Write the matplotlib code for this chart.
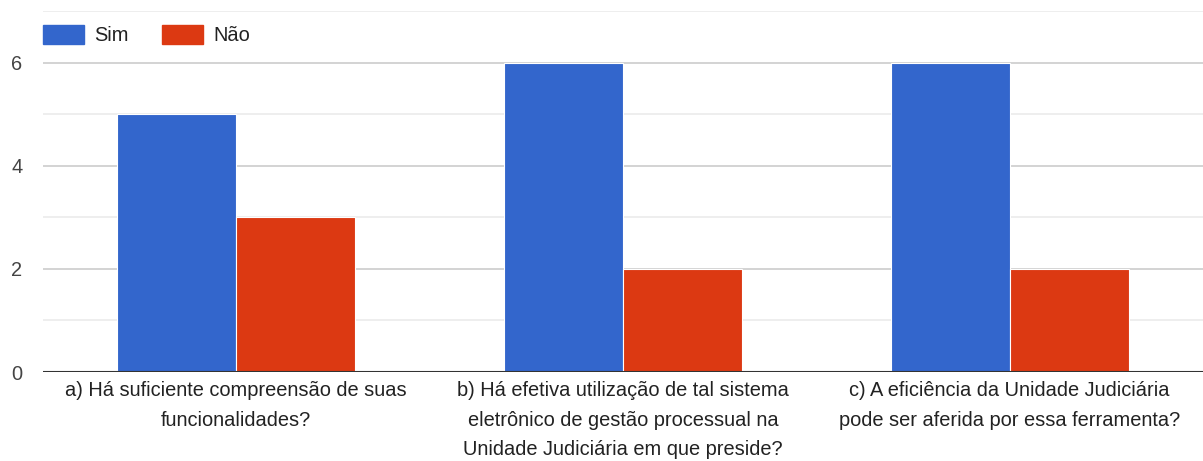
import matplotlib.pyplot as plt
import numpy as np
from matplotlib.patches import Patch

plt.rcParams['font.family'] = ['Liberation Sans', 'DejaVu Sans']

# dados
categorias = [
    'a) Há suficiente compreensão de suas\nfuncionalidades?',
    'b) Há efetiva utilização de tal sistema\neletrônico de gestão processual na\nUnidade Judiciária em que preside?',
    'c) A eficiência da Unidade Judiciária\npode ser aferida por essa ferramenta?',
]
sim = [5, 6, 6]
nao = [3, 2, 2]

azul = '#3366cc'
vermelho = '#dc3912'

fig = plt.figure(figsize=(12.03, 4.61), dpi=100)
ax = fig.add_axes([0.0357, 0.193, 0.9643, 0.783])

x = np.arange(len(categorias))
w = 0.308
ax.bar(x - w / 2, sim, w, color=azul, edgecolor='white', linewidth=0.8, zorder=3)
ax.bar(x + w / 2, nao, w, color=vermelho, edgecolor='white', linewidth=0.8, zorder=3)

ax.set_xlim(-0.5, 2.5)
ax.set_ylim(0, 7)
ax.set_yticks([0, 2, 4, 6])
ax.set_yticks([1, 3, 5, 7], minor=True)
ax.grid(axis='y', which='major', color='#cccccc', lw=1.2, zorder=0)
ax.grid(axis='y', which='minor', color='#ebebeb', lw=1.2, zorder=0)
ax.axhline(0, color='#333333', lw=1.5, zorder=4)

for s in ax.spines.values():
    s.set_visible(False)

ax.set_xticks(x)
ax.set_xticklabels(categorias, fontsize=14.4, color='#222222', linespacing=1.7)
ax.tick_params(axis='x', length=0, pad=6.5)
ax.tick_params(axis='y', which='both', length=0, pad=23, labelsize=14.4, labelcolor='#444444')
for t in ax.get_yticklabels():
    t.set_horizontalalignment('left')

# legenda
handles = [Patch(color=azul, label='Sim'), Patch(color=vermelho, label='Não')]
fig.legend(handles=handles, loc='center left', bbox_to_anchor=(0.0357, 0.924), ncol=2,
           frameon=False, fontsize=14.4, handlelength=2.05, handleheight=1.1,
           handletextpad=0.5, columnspacing=1.7, borderpad=0, borderaxespad=0,
           labelcolor='#222222')

fig.savefig('out.png', dpi=100)
